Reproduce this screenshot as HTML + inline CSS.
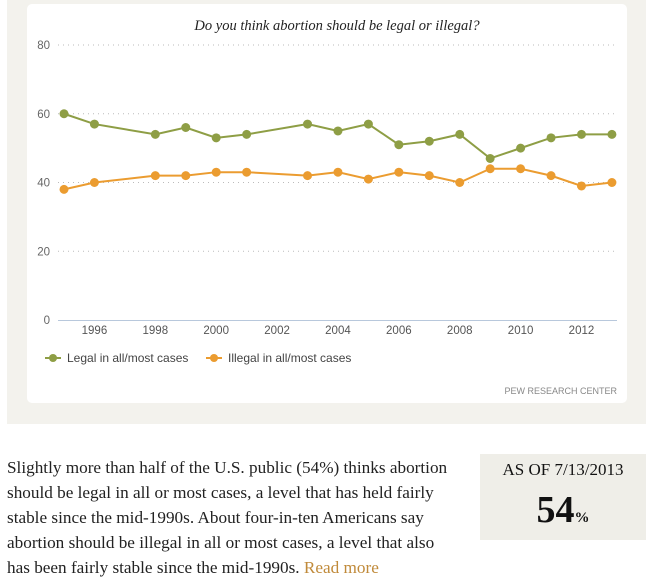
<!DOCTYPE html>
<html><head><meta charset="utf-8"><style>
body{margin:0;width:653px;height:581px;background:#fff;position:relative;overflow:hidden;font-family:"Liberation Sans",sans-serif}
#panel{position:absolute;left:7px;top:0;width:639px;height:424px;background:#f3f2ed}
#card{position:absolute;left:27px;top:4px;width:600px;height:399px;background:#fff;border-radius:5px}
svg{position:absolute;left:0;top:0}
#para{position:absolute;left:7px;top:455px;width:470px;font-family:"Liberation Serif",serif;font-size:17.2px;line-height:25px;color:#222;white-space:nowrap}
#para a{color:#c08a3a;text-decoration:none}
#box{position:absolute;left:480px;top:454px;width:166px;height:86px;background:#efeee8;text-align:center;font-family:"Liberation Serif",serif;color:#111}
</style></head><body>
<div id="panel"></div>
<div id="card"></div>
<svg id="chart" width="653" height="430"></svg>
<div id="para">Slightly more than half of the U.S. public (54%) thinks abortion<br>should be legal in all or most cases, a level that has held fairly<br>stable since the mid-1990s. About four-in-ten Americans say<br>abortion should be illegal in all or most cases, a level that also<br>has been fairly stable since the mid-1990s. <a href="#">Read more</a></div>
<div id="box">
<div style="font-size:17px;margin-top:6px">AS OF 7/13/2013</div>
<div style="font-size:38px;font-weight:bold;margin-top:8px">54<span style="font-size:15px">%</span></div>
</div>
<script>
const years=[1995,1996,1998,1999,2000,2001,2003,2004,2005,2006,2007,2008,2009,2010,2011,2012,2013];
const legal=[60,57,54,56,53,54,57,55,57,51,52,54,47,50,53,54,54];
const illegal=[38,40,42,42,43,43,42,43,41,43,42,40,44,44,42,39,40];
const yTicks=[0,20,40,60,80];
const xTicks=[1996,1998,2000,2002,2004,2006,2008,2010,2012];
const NS='http://www.w3.org/2000/svg';
const svg=document.getElementById('chart');
const x=y=>64+(y-1995)*30.44;
const yS=v=>320-v*3.4375;
function mk(t,a,p){const e=document.createElementNS(NS,t);for(const k in a)e.setAttribute(k,a[k]);(p||svg).appendChild(e);return e;}
const title=mk('text',{x:337,y:30,'text-anchor':'middle','font-family':'Liberation Serif,serif','font-style':'italic','font-size':14.5,fill:'#222'});
title.textContent='Do you think abortion should be legal or illegal?';


yTicks.forEach(v=>{
 if(v>0){const g=mk('line',{x1:58,x2:617,y1:yS(v),y2:yS(v),stroke:'#bbb','stroke-dasharray':'1,4'});
 
 }
 const t=mk('text',{x:50,y:yS(v)+4,'text-anchor':'end','font-size':11.5,fill:'#666'});t.textContent=v;
 
 
});
const ax=mk('line',{x1:58,x2:617,y1:320.5,y2:320.5,stroke:'#b8c8dc'});


xTicks.forEach(v=>{const t=mk('text',{x:x(v),y:334,'text-anchor':'middle','font-size':11.5,fill:'#555'});t.textContent=v;
 
 });
function series(vals,col,name){
 const p=mk('polyline',{points:vals.map((v,i)=>x(years[i])+','+yS(v)).join(' '),fill:'none',stroke:col,'stroke-width':2});
 
 
 vals.forEach((v,i)=>{const c=mk('circle',{cx:x(years[i]),cy:yS(v),r:4.5,fill:col});
 
 });
}
series(legal,'#8e9e45','legal');
series(illegal,'#eb9c30','illegal');
function leg(lx,col,txt,name){
 const g=mk('g',{});
 
 
 mk('line',{x1:lx,x2:lx+16,y1:358,y2:358,stroke:col,'stroke-width':2},g);
 mk('circle',{cx:lx+8,cy:358,r:4,fill:col},g);
 const t=mk('text',{x:lx+22,y:362,'font-size':12,fill:'#444'},g);t.textContent=txt;
}
leg(45,'#8e9e45','Legal in all/most cases','legend-legal');
leg(206,'#eb9c30','Illegal in all/most cases','legend-illegal');
const src=mk('text',{x:617,y:394,'text-anchor':'end','font-size':9,fill:'#888'});src.textContent='PEW RESEARCH CENTER';


</script>
</body></html>
